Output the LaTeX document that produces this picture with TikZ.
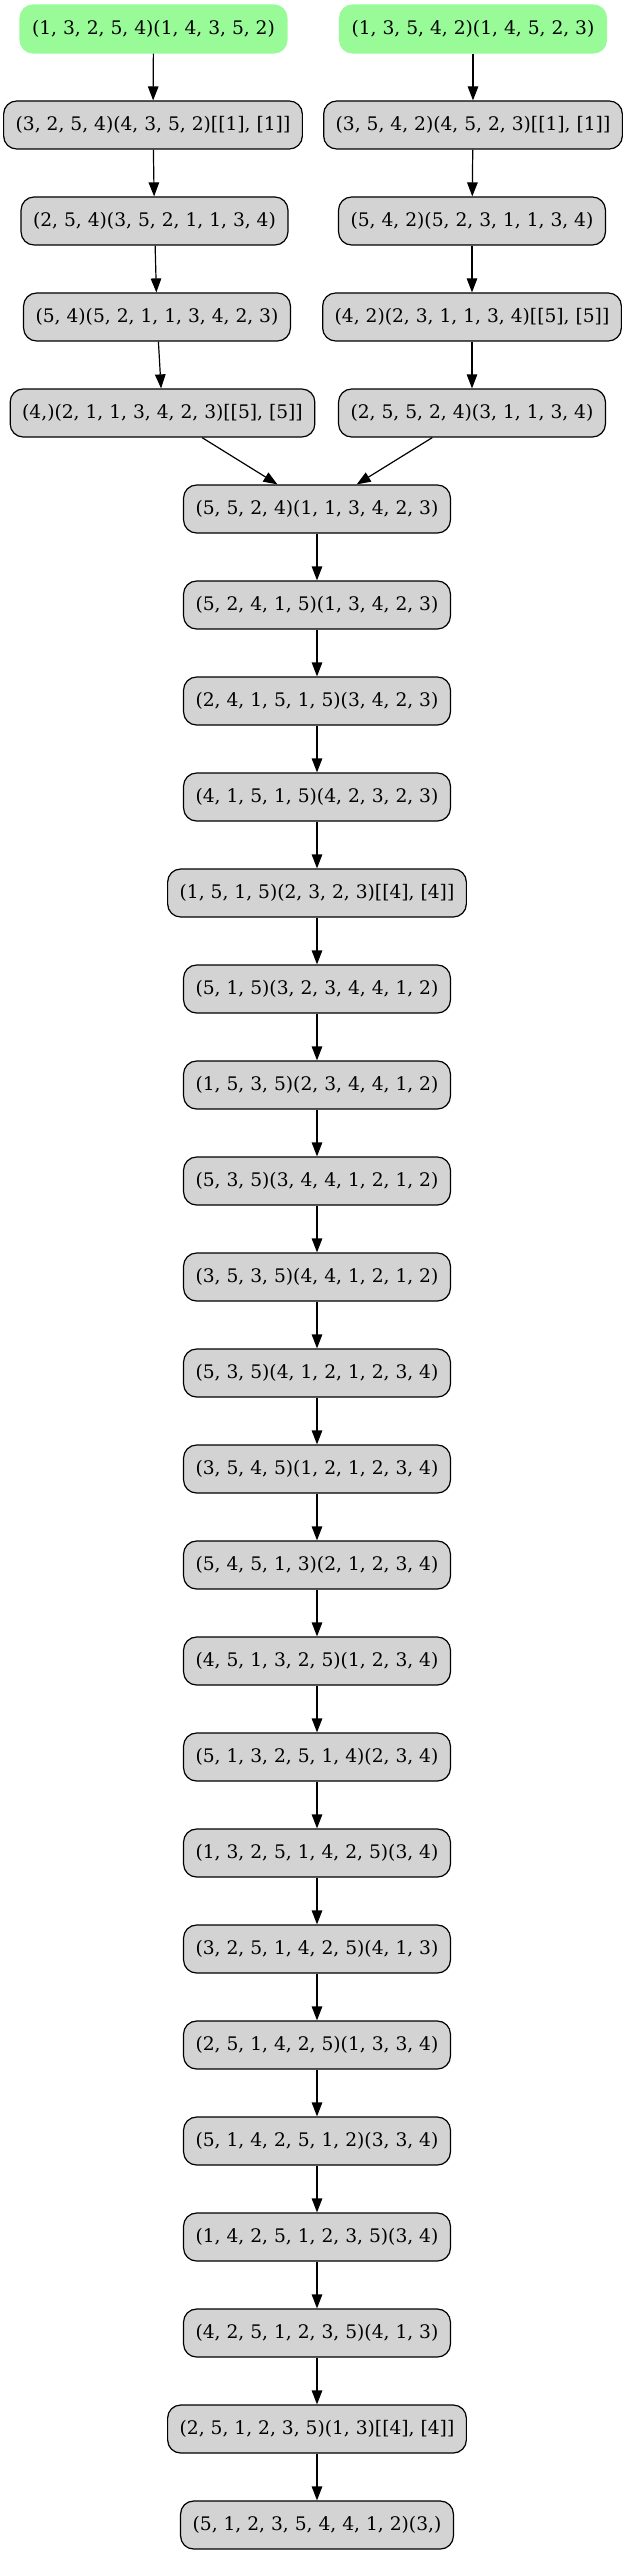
\documentclass[tikz,border=0pt]{standalone}
\usepackage{fontspec}
\setmainfont{DejaVu Serif}
\usetikzlibrary{arrows.meta}
\definecolor{StateGray}{HTML}{D3D3D3}
\definecolor{StartGreen}{HTML}{98FB98}

\begin{document}
\begin{tikzpicture}[x=1pt,y=1pt,
    state/.style={draw=black,fill=StateGray,rounded corners=13pt,line width=1.2pt,
      minimum height=48pt,inner xsep=12pt,inner ysep=0pt,
      font=\fontsize{18.67}{22}\selectfont},
    start/.style={state,draw=StartGreen,fill=StartGreen},
    move/.style={-{Triangle[length=14pt,width=10.5pt]},line width=1.2pt}]
  \useasboundingbox (0,0) rectangle (627,-2555);
  % the two starting branches
  \foreach \i/\xl/\labl/\xr/\labr in {
      1/153.5/{(1, 3, 2, 5, 4)(1, 4, 3, 5, 2)}/473/{(1, 3, 5, 4, 2)(1, 4, 5, 2, 3)},
      2/153/{(3, 2, 5, 4)(4, 3, 5, 2)[[1], [1]]}/473/{(3, 5, 4, 2)(4, 5, 2, 3)[[1], [1]]},
      3/154.5/{(2, 5, 4)(3, 5, 2, 1, 1, 3, 4)}/472/{(5, 4, 2)(5, 2, 3, 1, 1, 3, 4)},
      4/157/{(5, 4)(5, 2, 1, 1, 3, 4, 2, 3)}/472/{(4, 2)(2, 3, 1, 1, 3, 4)[[5], [5]]},
      5/162.5/{(4,)(2, 1, 1, 3, 4, 2, 3)[[5], [5]]}/472/{(2, 5, 5, 2, 4)(3, 1, 1, 3, 4)}}{
    \ifnum\i=1
      \node[start] (l\i) at (\xl,{-29-96*(\i-1)}) {\labl};
      \node[start] (r\i) at (\xr,{-29-96*(\i-1)}) {\labr};
    \else
      \node[state] (l\i) at (\xl,{-29-96*(\i-1)}) {\labl};
      \node[state] (r\i) at (\xr,{-29-96*(\i-1)}) {\labr};
    \fi
  }
  % merged chain
  \foreach \i/\lab in {
      0/{(5, 5, 2, 4)(1, 1, 3, 4, 2, 3)},
      1/{(5, 2, 4, 1, 5)(1, 3, 4, 2, 3)},
      2/{(2, 4, 1, 5, 1, 5)(3, 4, 2, 3)},
      3/{(4, 1, 5, 1, 5)(4, 2, 3, 2, 3)},
      4/{(1, 5, 1, 5)(2, 3, 2, 3)[[4], [4]]},
      5/{(5, 1, 5)(3, 2, 3, 4, 4, 1, 2)},
      6/{(1, 5, 3, 5)(2, 3, 4, 4, 1, 2)},
      7/{(5, 3, 5)(3, 4, 4, 1, 2, 1, 2)},
      8/{(3, 5, 3, 5)(4, 4, 1, 2, 1, 2)},
      9/{(5, 3, 5)(4, 1, 2, 1, 2, 3, 4)},
      10/{(3, 5, 4, 5)(1, 2, 1, 2, 3, 4)},
      11/{(5, 4, 5, 1, 3)(2, 1, 2, 3, 4)},
      12/{(4, 5, 1, 3, 2, 5)(1, 2, 3, 4)},
      13/{(5, 1, 3, 2, 5, 1, 4)(2, 3, 4)},
      14/{(1, 3, 2, 5, 1, 4, 2, 5)(3, 4)},
      15/{(3, 2, 5, 1, 4, 2, 5)(4, 1, 3)},
      16/{(2, 5, 1, 4, 2, 5)(1, 3, 3, 4)},
      17/{(5, 1, 4, 2, 5, 1, 2)(3, 3, 4)},
      18/{(1, 4, 2, 5, 1, 2, 3, 5)(3, 4)},
      19/{(4, 2, 5, 1, 2, 3, 5)(4, 1, 3)},
      20/{(2, 5, 1, 2, 3, 5)(1, 3)[[4], [4]]},
      21/{(5, 1, 2, 3, 5, 4, 4, 1, 2)(3,)}}{
    \node[state] (c\i) at (317,{-509-96*\i}) {\lab};
  }
  \foreach \i in {1,...,4}{
    \pgfmathtruncatemacro\j{\i+1}
    \draw[move] (l\i) -- (l\j);
    \draw[move] (r\i) -- (r\j);
  }
  \draw[move] (l5) -- (c0);
  \draw[move] (r5) -- (c0);
  \foreach \i in {0,...,20}{
    \pgfmathtruncatemacro\j{\i+1}
    \draw[move] (c\i) -- (c\j);
  }
\end{tikzpicture}
\end{document}
